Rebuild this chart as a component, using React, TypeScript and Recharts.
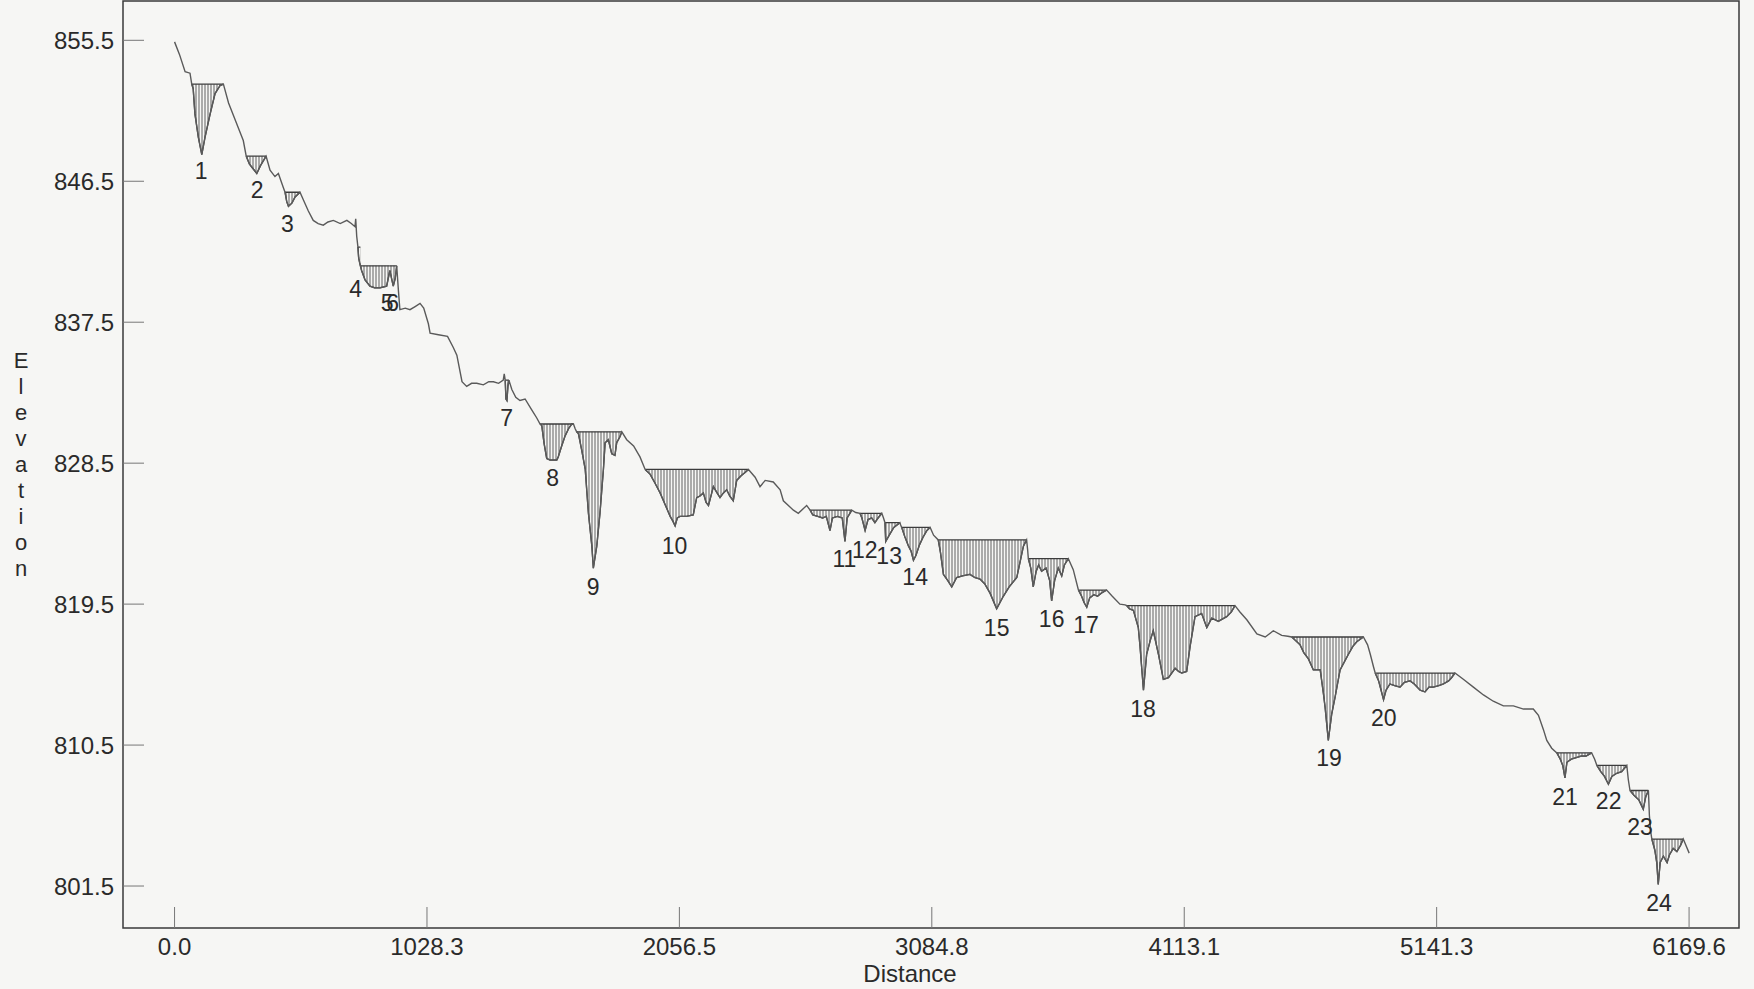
import {
  Area,
  ComposedChart,
  Line,
  ReferenceArea,
  Scatter,
  XAxis,
  YAxis,
} from 'recharts';

// Long profile of the channel bed: distance along the reach and bed elevation.
const bedDistance = [
  0, 20, 43, 63, 70, 76, 83, 97, 111, 124, 145, 165, 185, 199, 220, 250, 270, 280, 292, 305,
  320, 335, 350, 373, 389, 409, 423, 443, 450, 457, 464, 478, 491, 511,
  525, 545, 565, 585, 606, 625, 647, 675, 702, 720, 735, 738, 742, 747, 750, 754, 757, 762,
  776, 796, 815, 837, 864, 877, 891, 899, 905,
  912, 918, 940, 959, 980, 1000, 1015, 1034, 1041, 1075, 1112, 1135, 1150, 1171, 1190, 1210,
  1231, 1258, 1280, 1299, 1320, 1339, 1343, 1347, 1350, 1354, 1358, 1362, 1374, 1390, 1407,
  1428, 1455, 1475, 1489, 1496, 1505, 1516, 1530, 1545, 1557, 1563, 1575, 1590, 1605, 1618, 1625,
  1632, 1638, 1645, 1659, 1673, 1686, 1700, 1706, 1720, 1733, 1747, 1754, 1767, 1781, 1794,
  1801, 1815, 1822, 1842, 1870, 1896, 1917, 1937, 1958, 1978, 2000, 2019, 2030, 2039, 2048,
  2059, 2085, 2113, 2127, 2140, 2154, 2165, 2175, 2185, 2195, 2210, 2222, 2236, 2249, 2262,
  2276, 2290, 2308, 2324, 2338,
  2365, 2385, 2406, 2439, 2467, 2480, 2521, 2541, 2575, 2589, 2600, 2620, 2640, 2655, 2670,
  2680, 2700, 2720, 2731, 2740, 2759, 2775, 2792, 2800, 2813, 2825, 2840, 2853, 2866, 2881,
  2888, 2894, 2897, 2915, 2930, 2955, 2958, 2962, 2975, 2990, 3000, 3010, 3020, 3035, 3050,
  3065, 3078,
  3092, 3111, 3120, 3132, 3150, 3166, 3186, 3210, 3240, 3260, 3281, 3300, 3322, 3349, 3376,
  3400, 3431, 3458, 3471, 3475, 3478, 3488, 3498, 3510, 3520, 3532, 3550, 3565, 3573, 3585,
  3600, 3614, 3625, 3641, 3661, 3682, 3695, 3705, 3716, 3728, 3745, 3760, 3775, 3797,
  3820, 3851, 3872, 3879, 3890, 3906, 3926, 3933, 3947, 3960, 3975, 3987, 4008, 4028, 4049,
  4076, 4090, 4103, 4123, 4137, 4157, 4184, 4205, 4225, 4252, 4286, 4305, 4320, 4340, 4368,
  4409, 4443, 4476, 4510, 4535, 4551, 4565, 4585, 4600, 4619, 4639, 4667, 4680, 4687, 4700,
  4714, 4728, 4748, 4765, 4782, 4800, 4816, 4843,
  4860, 4871, 4884, 4891, 4905, 4915, 4925, 4935, 4951, 4970, 4992, 5010, 5033, 5050, 5074,
  5094, 5110, 5128, 5150, 5168, 5190, 5202, 5216, 5250, 5291, 5332, 5372, 5413, 5454, 5495,
  5535, 5556, 5576, 5590, 5610, 5631, 5645, 5655, 5664, 5672, 5690, 5710, 5730, 5750, 5773,
  5785, 5794, 5810, 5825, 5841, 5855, 5875, 5895, 5916, 5922, 5929, 5945, 5965, 5983, 5993,
  6004, 6008, 6014, 6018, 6030, 6038, 6044, 6052, 6065, 6080, 6090, 6105, 6120, 6135, 6146, 6170,
];

const bedElevation = [
  855.4, 854.6, 853.5, 853.4, 852.7, 852.4, 850.8, 849.3, 848.2, 849.3, 850.8, 852.1, 852.6, 852.7, 851.5, 850.3, 849.5, 849.1, 848.1, 847.6,
  847.3, 847.0, 847.5, 848.1, 847.2, 846.8, 847.0, 846.1, 845.8, 845.2, 844.9, 845.1, 845.5, 845.8,
  845.3, 844.6, 844.0, 843.8, 843.7, 843.9, 844.0, 843.8, 844.0, 843.8, 843.6, 844.1, 843.0, 842.3, 841.6, 841.3, 841.1, 840.8,
  840.2, 839.8, 839.7, 839.7, 839.8, 840.8, 839.8, 840.3, 841.1,
  839.5, 838.3, 838.4, 838.3, 838.5, 838.7, 838.4, 837.4, 836.8, 836.7, 836.6, 835.9, 835.4, 833.7, 833.4, 833.6,
  833.6, 833.5, 833.7, 833.7, 833.6, 833.8, 834.2, 833.8, 832.6, 832.5, 833.4, 833.8, 833.2, 832.7, 832.5,
  832.6, 831.9, 831.4, 831.0, 830.9, 829.8, 828.8, 828.7, 828.7, 828.7, 828.9, 829.5, 830.2, 830.7, 831.0, 831.0,
  830.7, 830.5, 830.4, 829.3, 828.1, 825.3, 823.2, 821.8, 823.2, 825.3, 828.1, 829.8, 830.0, 829.1, 829.0,
  829.8, 830.2, 830.5, 830.0, 829.6, 828.9, 828.1, 827.8, 827.2, 826.6, 825.8, 825.1, 824.8, 824.5, 825.0,
  825.1, 825.1, 825.2, 826.3, 826.4, 826.6, 826.0, 825.8, 826.4, 827.0, 826.6, 826.3, 826.6, 826.8, 826.4,
  826.1, 827.4, 827.7, 827.9, 828.1,
  827.6, 827.0, 827.4, 827.3, 826.8, 826.1, 825.5, 825.3, 825.8, 825.5, 825.2, 825.1, 825.0, 825.1, 824.2,
  825.0, 825.1, 825.0, 823.5, 825.0, 825.5, 825.35, 825.3, 825.0, 824.2, 824.9, 825.0, 824.7, 825.0, 825.3,
  825.0, 824.7, 823.5, 824.0, 824.4, 824.7, 824.55, 824.4, 823.8, 823.2, 822.9, 822.3, 822.6, 823.3, 823.8,
  824.2, 824.4,
  823.9, 823.6, 822.8, 821.4, 821.0, 820.6, 821.2, 821.3, 821.4, 821.2, 821.1, 820.8, 820.2, 819.2, 820.0,
  820.6, 821.2, 823.2, 823.6, 823.0, 822.4, 821.8, 820.6, 821.6, 822.0, 821.6, 821.8, 821.0, 819.7, 821.0,
  821.8, 821.3, 822.0, 822.4, 821.7, 820.4, 820.0, 819.6, 819.3, 819.9, 820.1, 820.0, 820.2, 820.4,
  820.0, 819.5, 819.45, 819.4, 819.2, 819.1, 818.0, 816.8, 814.0, 816.3, 817.2, 817.8, 816.3, 814.7, 814.8,
  815.4, 815.2, 815.1, 815.2, 816.8, 818.7, 818.9, 818.0, 818.6, 818.4, 818.7, 819.0, 819.4, 819.0, 818.5,
  817.6, 817.4, 817.8, 817.5, 817.45, 817.4, 817.2, 816.9, 816.4, 816.0, 815.3, 815.3, 813.8, 812.9, 810.8,
  812.5, 813.6, 815.3, 815.8, 816.3, 816.8, 817.1, 817.4,
  816.9, 816.3, 815.5, 815.1, 814.6, 814.0, 813.4, 814.0, 814.4, 814.3, 814.2, 814.5, 814.6, 814.4, 814.0,
  813.9, 814.2, 814.2, 814.3, 814.4, 814.6, 814.8, 815.1, 814.7, 814.2, 813.7, 813.3, 813.0, 813.0, 812.8,
  812.8, 812.4, 811.5, 810.8, 810.3, 810.0, 809.6, 809.2, 808.4, 809.4, 809.6, 809.7, 809.8, 809.8, 810.0,
  809.6, 809.2, 808.8, 808.5, 808.0, 808.5, 808.7, 808.8, 809.2, 808.3, 807.6, 807.3, 807.0, 806.4, 807.2,
  807.6, 806.0, 804.9, 804.5, 803.8, 803.0, 801.6, 803.0, 803.4, 803.0, 803.5, 803.9, 803.7, 804.1, 804.5, 803.6,
];

// Pools: extent along the reach, water-surface elevation and where the number sits.
const poolNumber = [1, 2, 3, 4, 5, 6, 7, 8, 9, 10, 11, 12, 13, 14, 15, 16, 17, 18, 19, 20, 21, 22, 23, 24];
const poolStart = [70, 292, 450, 747, 757, 877, 1347, 1489, 1638, 1917, 2589, 2792, 2894, 2962, 3111, 3478, 3682, 3879, 4551, 4891, 5631, 5794, 5929, 6018];
const poolEnd = [199, 373, 511, 757, 877, 905, 1362, 1625, 1822, 2338, 2759, 2881, 2955, 3078, 3471, 3641, 3797, 4320, 4843, 5216, 5773, 5916, 6004, 6146];
const poolSurface = [852.7, 848.1, 845.8, 842.3, 841.1, 841.1, 833.8, 831.0, 830.5, 828.1, 825.5, 825.3, 824.7, 824.4, 823.6, 822.4, 820.4, 819.4, 817.4, 815.1, 810.0, 809.2, 807.6, 804.5];
const labelDistance = [108, 336, 460, 738, 866, 888, 1353, 1540, 1705, 2037, 2729, 2812, 2911, 3017, 3349, 3573, 3713, 3945, 4703, 4926, 5664, 5842, 5970, 6047];
const labelElevation = [847.15, 845.94, 843.77, 839.65, 838.73, 838.73, 831.38, 827.58, 820.59, 823.21, 822.38, 822.95, 822.57, 821.23, 818.01, 818.58, 818.17, 812.8, 809.67, 812.23, 807.22, 806.93, 805.3, 800.43];

const xTicks = [0, 1028.3, 2056.5, 3084.8, 4113.1, 5141.3, 6169.6];
const yTicks = [801.5, 810.5, 819.5, 828.5, 837.5, 846.5, 855.5];
const X_DOMAIN: [number, number] = [-210, 6373];
const Y_DOMAIN: [number, number] = [798.82, 858.01];

const FONT = '"Liberation Sans", Arial, sans-serif';
const INK = '#2a2a2a';
const TICK_LEN = 21;

// Odd and even pools go to separate keys so neighbouring pools never merge.
const rows = bedDistance.map((distance, i) => {
  const row: Record<string, number | number[] | null> = {
    distance,
    bed: bedElevation[i],
    poolOdd: null,
    poolEven: null,
  };
  poolStart.forEach((start, p) => {
    if (distance >= start && distance <= poolEnd[p]) {
      row[p % 2 === 0 ? 'poolOdd' : 'poolEven'] = [bedElevation[i], poolSurface[p]];
    }
  });
  return row;
});

const labelRows = poolNumber.map((n, i) => ({
  distance: labelDistance[i],
  labelElev: labelElevation[i],
  name: String(n),
}));

function BottomTick(props: any) {
  const { x, y, payload } = props;
  const axisY = y - 10;
  return (
    <g>
      <line x1={x} y1={axisY} x2={x} y2={axisY - TICK_LEN} stroke="#777" strokeWidth={1} />
      <text x={x} y={y} dy="0.71em" textAnchor="middle" fontFamily={FONT} fontSize={24} fill={INK}>
        {Number(payload.value).toFixed(1)}
      </text>
    </g>
  );
}

function TopTick(props: any) {
  const { x, y } = props;
  return <line x1={x} y1={y} x2={x} y2={y + TICK_LEN} stroke="#777" strokeWidth={1} />;
}

function LeftTick(props: any) {
  const { x, y, payload } = props;
  const axisX = x + 9;
  return (
    <g>
      <line x1={axisX} y1={y} x2={axisX + TICK_LEN} y2={y} stroke="#777" strokeWidth={1} />
      <text x={x} y={y} dy="0.36em" textAnchor="end" fontFamily={FONT} fontSize={24} fill={INK}>
        {Number(payload.value).toFixed(1)}
      </text>
    </g>
  );
}

function ElevationLabel(props: any) {
  const vb = props.viewBox || { y: 1, height: 927 };
  const cy = vb.y + vb.height / 2;
  const letters = 'Elevation'.split('');
  const step = 26;
  const top = cy - ((letters.length - 1) * step) / 2;
  return (
    <text x={21} y={top} textAnchor="middle" fontFamily={FONT} fontSize={22} fill={INK}>
      {letters.map((ch, i) => (
        <tspan key={i} x={21} y={top + i * step} dy="0.36em">
          {ch}
        </tspan>
      ))}
    </text>
  );
}

function DistanceLabel(props: any) {
  const vb = props.viewBox || { x: 123, width: 1616, y: 928 };
  return (
    <text
      x={vb.x + vb.width / 2 - 21}
      y={973}
      dy="0.36em"
      textAnchor="middle"
      fontFamily={FONT}
      fontSize={24}
      fill={INK}
    >
      Distance
    </text>
  );
}

function PoolLabel(props: any) {
  const { cx, cy, payload } = props;
  return (
    <text x={cx} y={cy} dy="0.36em" textAnchor="middle" fontFamily={FONT} fontSize={23} fill={INK}>
      {payload.name}
    </text>
  );
}

export default function App() {
  return (
    <div
      style={{
        position: 'absolute',
        left: 0,
        top: 0,
        width: 1754,
        height: 989,
        background: '#f6f6f4',
      }}
    >
      <ComposedChart
        width={1754}
        height={989}
        data={rows}
        margin={{ top: 1, right: 15, bottom: 21, left: 0 }}
      >
        <defs>
          <pattern id="hatch" width={3} height={8} patternUnits="userSpaceOnUse">
            <line x1={1} y1={0} x2={1} y2={8} stroke="#5f5f5f" strokeWidth={1} />
          </pattern>
        </defs>
        <XAxis
          dataKey="distance"
          type="number"
          domain={X_DOMAIN}
          allowDataOverflow
          ticks={xTicks}
          interval={0}
          height={40}
          tickSize={0}
          tickMargin={10}
          tickLine={false}
          axisLine={false}
          tick={(p: any) => <BottomTick {...p} />}
          label={(p: any) => <DistanceLabel {...p} />}
        />
        <XAxis
          xAxisId="top"
          orientation="top"
          dataKey="distance"
          type="number"
          domain={X_DOMAIN}
          allowDataOverflow
          ticks={xTicks}
          interval={0}
          height={0}
          tickSize={0}
          tickMargin={0}
          tickLine={false}
          axisLine={false}
          tick={(p: any) => <TopTick {...p} />}
        />
        <YAxis
          type="number"
          domain={Y_DOMAIN}
          allowDataOverflow
          ticks={yTicks}
          interval={0}
          width={123}
          tickSize={0}
          tickMargin={9}
          tickLine={false}
          axisLine={false}
          tick={(p: any) => <LeftTick {...p} />}
          label={(p: any) => <ElevationLabel {...p} />}
        />
        <Area
          dataKey="poolOdd"
          type="linear"
          fill="url(#hatch)"
          fillOpacity={1}
          stroke="#3c3c3c"
          strokeWidth={1.3}
          connectNulls={false}
          dot={false}
          activeDot={false}
          isAnimationActive={false}
        />
        <Area
          dataKey="poolEven"
          type="linear"
          fill="url(#hatch)"
          fillOpacity={1}
          stroke="#3c3c3c"
          strokeWidth={1.3}
          connectNulls={false}
          dot={false}
          activeDot={false}
          isAnimationActive={false}
        />
        <Line
          dataKey="bed"
          type="linear"
          stroke="#5a5a5a"
          strokeWidth={1.4}
          dot={false}
          activeDot={false}
          isAnimationActive={false}
        />
        <Scatter
          data={labelRows}
          dataKey="labelElev"
          shape={(p: any) => <PoolLabel {...p} />}
          isAnimationActive={false}
        />
        <ReferenceArea
          x1={X_DOMAIN[0]}
          x2={X_DOMAIN[1]}
          y1={Y_DOMAIN[0]}
          y2={Y_DOMAIN[1]}
          fill="none"
          stroke="#3a3a3a"
          strokeWidth={1.5}
          ifOverflow="visible"
        />
      </ComposedChart>
    </div>
  );
}
